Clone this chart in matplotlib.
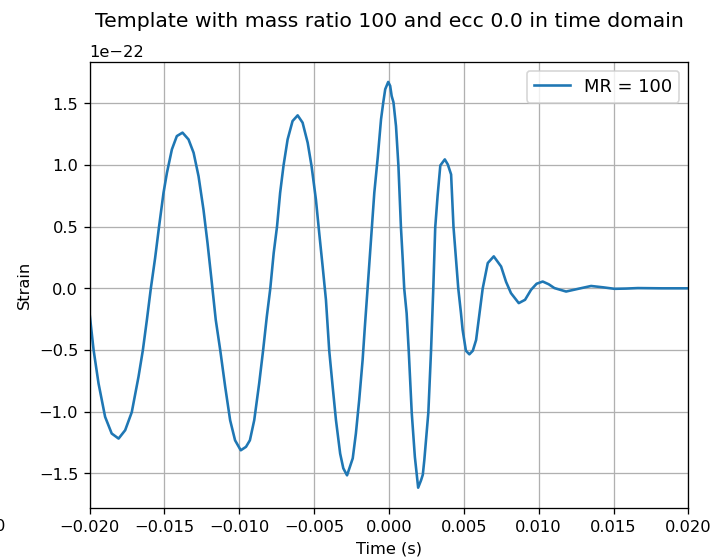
import matplotlib
matplotlib.use('Agg')
from matplotlib import pyplot
import numpy as np

# values (time in s, strain in units of 1e-22)
time_s = [
    -0.02000, -0.01973, -0.01940, -0.01896, -0.01852, -0.01806, -0.01762, -0.01718,
    -0.01673, -0.01644, -0.01617, -0.01591, -0.01562, -0.01536, -0.01506, -0.01483,
    -0.01450, -0.01417, -0.01379, -0.01339, -0.01305, -0.01272, -0.01239, -0.01212,
    -0.01183, -0.01157, -0.01127, -0.01094, -0.01061, -0.01028, -0.00990, -0.00955,
    -0.00929, -0.00900, -0.00867, -0.00841, -0.00816, -0.00793, -0.00770, -0.00748,
    -0.00727, -0.00704, -0.00677, -0.00644, -0.00610, -0.00577, -0.00543, -0.00517,
    -0.00488, -0.00466, -0.00443, -0.00421, -0.00399, -0.00376, -0.00354, -0.00326,
    -0.00305, -0.00280, -0.00242, -0.00221, -0.00199, -0.00176, -0.00161, -0.00143,
    -0.00120, -0.00098, -0.00075, -0.00053, -0.00038, -0.00025, -0.00005, 0.00008,
    0.00018, 0.00030, 0.00047, 0.00063, 0.00080, 0.00092, 0.00102, 0.00118,
    0.00132, 0.00152, 0.00173, 0.00195, 0.00214, 0.00226, 0.00236, 0.00263,
    0.00281, 0.00296, 0.00309, 0.00325, 0.00343, 0.00373, 0.00393, 0.00415,
    0.00431, 0.00463, 0.00481, 0.00492, 0.00514, 0.00537, 0.00560, 0.00582,
    0.00626, 0.00660, 0.00700, 0.00749, 0.00782, 0.00815, 0.00867, 0.00909,
    0.00949, 0.00986, 0.01027, 0.01067, 0.01105, 0.01183, 0.01264, 0.01350,
    0.01431, 0.01506, 0.01584, 0.01662, 0.01818, 0.02000,
]
strain = [
    -0.202, -0.500, -0.771, -1.042, -1.177, -1.218, -1.150, -1.004,
    -0.717, -0.502, -0.256, -0.004, 0.246, 0.498, 0.774, 0.937,
    1.126, 1.234, 1.262, 1.207, 1.099, 0.909, 0.638, 0.367,
    0.042, -0.256, -0.502, -0.798, -1.069, -1.232, -1.313, -1.285,
    -1.232, -1.069, -0.771, -0.506, -0.229, -0.004, 0.286, 0.498,
    0.774, 0.998, 1.207, 1.356, 1.402, 1.343, 1.180, 0.990,
    0.720, 0.449, 0.177, -0.093, -0.506, -0.798, -1.069, -1.340,
    -1.459, -1.516, -1.378, -1.177, -0.907, -0.581, -0.311, -0.004,
    0.394, 0.774, 1.061, 1.370, 1.508, 1.614, 1.673, 1.641,
    1.559, 1.508, 1.315, 0.996, 0.494, 0.232, -0.004, -0.202,
    -0.506, -1.007, -1.367, -1.616, -1.557, -1.511, -1.394, -1.007,
    -0.506, -0.004, 0.494, 0.752, 0.996, 1.045, 1.004, 0.923,
    0.498, -0.002, -0.202, -0.337, -0.506, -0.535, -0.506, -0.419,
    -0.002, 0.205, 0.259, 0.177, 0.053, -0.039, -0.120, -0.093,
    -0.012, 0.037, 0.055, 0.033, 0.002, -0.026, -0.004, 0.019,
    0.008, -0.004, -0.002, 0.002, 0.000, 0.000,
]
mass_ratio = 100
ecc = 0.0

t = np.array(time_s)
h = np.array(strain) * 1e-22

#фигура
fig = pyplot.figure(figsize = (714.4 / 117, 558.4 / 117), dpi = 117)
ax = fig.add_axes([89.5 / 714, 50 / 558, (688 - 89.5) / 714, (508 - 62) / 558])

ax.plot(t, h, label = 'MR = ' + str(mass_ratio), linewidth = 1.6)
ax.set_xlim(-0.02, 0.02)
ax.set_title('Template with mass ratio ' + str(mass_ratio) + ' and ecc ' + str(ecc) + ' in time domain',
             fontsize = 12.5, pad = 11)
ax.set_xlabel('Time (s)')
ax.set_ylabel('Strain')
ax.grid()
ax.legend(fontsize = 11)

# обрезанная подпись соседнего графика слева
fig.text(5 / 714, (558 - 519) / 558, '0', ha = 'right', va = 'top', fontsize = 10)

fig.savefig('out.png')
